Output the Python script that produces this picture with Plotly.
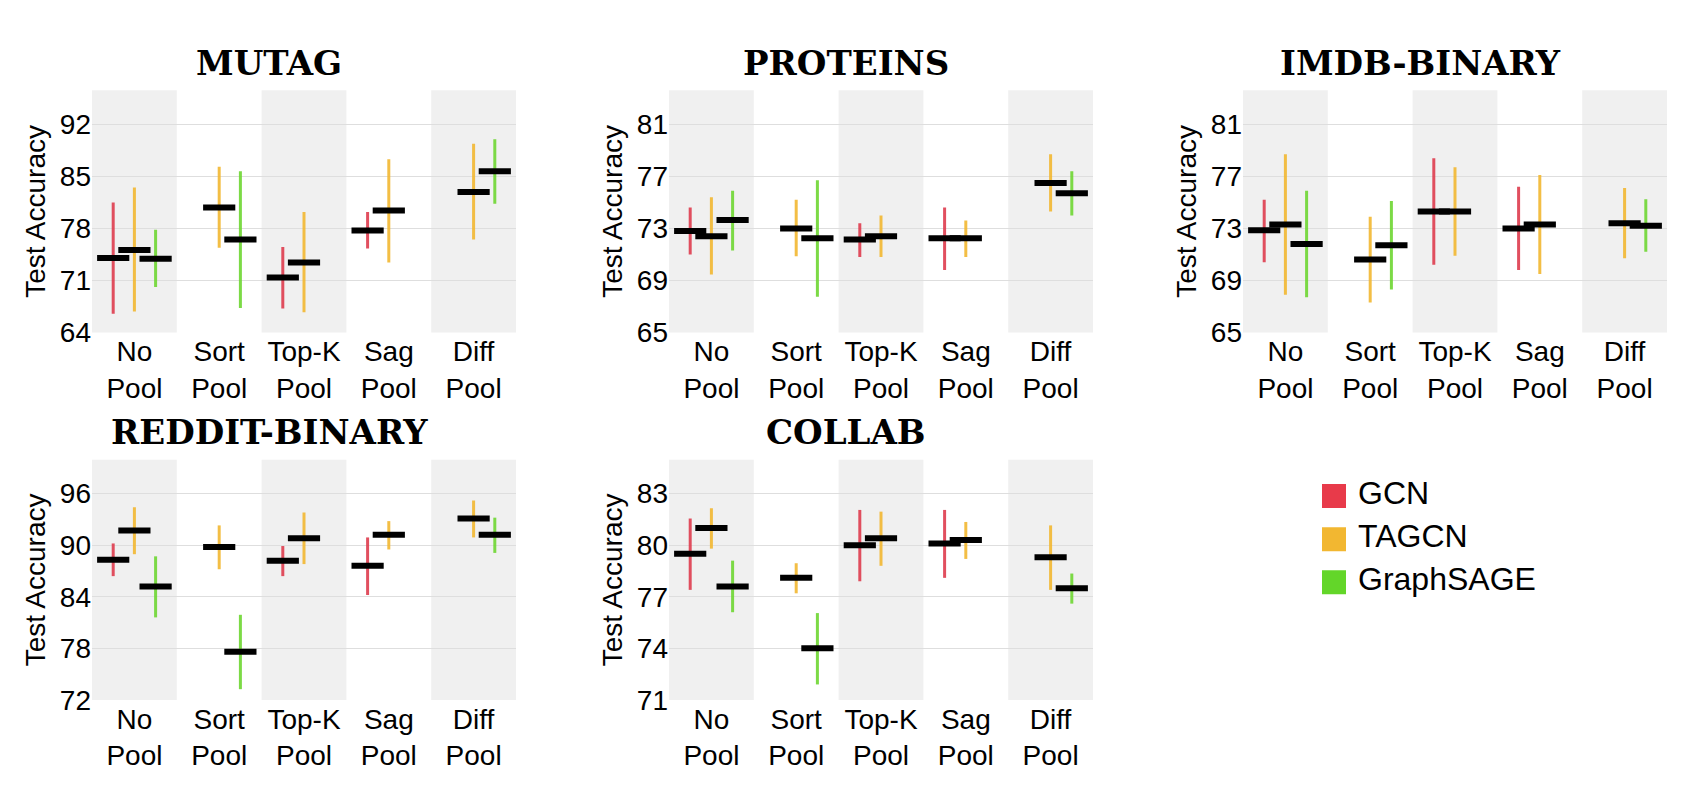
import plotly.graph_objects as go

W, H = 1682, 802

pools = ["No<br>Pool", "Sort<br>Pool", "Top-K<br>Pool", "Sag<br>Pool", "Diff<br>Pool"]
methods = ["GCN", "TAGCN", "GraphSAGE"]
method_colors = ["#e83a4a", "#f2b731", "#63d629"]
bar_colors = ["rgba(222,60,78,0.9)", "rgba(242,183,49,0.9)", "rgba(110,214,50,0.9)"]
offsets = [-0.25, 0.0, 0.25]
datasets = ["MUTAG", "PROTEINS", "IMDB-BINARY", "REDDIT-BINARY", "COLLAB"]

# ---- MUTAG (rows: GCN, TAGCN, GraphSAGE; cols: pools) ----
mutag_ticks = [64, 71, 78, 85, 92]
mutag_mean = [[74.0, None, 71.4, 77.7, None],
              [75.1, 80.8, 73.4, 80.4, 82.9],
              [73.9, 76.5, None, None, 85.7]]
mutag_low = [[66.5, None, 67.2, 75.3, None],
             [66.8, 75.4, 66.7, 73.4, 76.5],
             [70.1, 67.3, None, None, 81.3]]
mutag_high = [[81.5, None, 75.5, 80.2, None],
              [83.5, 86.3, 80.2, 87.3, 89.4],
              [77.8, 85.7, None, None, 90.0]]

# ---- PROTEINS ----
proteins_ticks = [65, 69, 73, 77, 81]
proteins_mean = [[72.8, None, 72.15, 72.25, None],
                 [72.4, 73.0, 72.4, 72.25, 76.5],
                 [73.65, 72.25, None, None, 75.7]]
proteins_low = [[71.0, None, 70.8, 69.8, None],
                [69.45, 70.85, 70.8, 70.8, 74.3],
                [71.3, 67.75, None, None, 74.0]]
proteins_high = [[74.6, None, 73.4, 74.6, None],
                 [75.4, 75.2, 74.0, 73.6, 78.7],
                 [75.9, 76.7, None, None, 77.4]]

# ---- IMDB-BINARY ----
imdb_ticks = [65, 69, 73, 77, 81]
imdb_mean = [[72.85, None, 74.3, 73.0, None],
             [73.3, 70.6, 74.3, 73.3, 73.4],
             [71.8, 71.7, None, None, 73.2]]
imdb_low = [[70.4, None, 70.2, 69.8, None],
            [67.9, 67.3, 70.9, 69.5, 70.7],
            [67.7, 68.3, None, None, 71.2]]
imdb_high = [[75.2, None, 78.4, 76.2, None],
             [78.7, 73.9, 77.7, 77.1, 76.1],
             [75.9, 75.1, None, None, 75.25]]

# ---- REDDIT-BINARY ----
reddit_ticks = [72, 78, 84, 90, 96]
reddit_mean = [[88.3, None, 88.2, 87.6, None],
               [91.7, 89.8, 90.8, 91.2, 93.1],
               [85.2, 77.6, None, None, 91.2]]
reddit_low = [[86.4, None, 86.4, 84.2, None],
              [88.95, 87.2, 87.8, 89.5, 90.9],
              [81.6, 73.25, None, None, 89.1]]
reddit_high = [[90.2, None, 89.9, 90.9, None],
               [94.4, 92.3, 93.8, 92.8, 95.2],
               [88.7, 81.9, None, None, 93.2]]

# ---- COLLAB ----
collab_ticks = [71, 74, 77, 80, 83]
collab_mean = [[79.5, None, 80.0, 80.1, None],
               [81.0, 78.1, 80.4, 80.3, 79.3],
               [77.6, 74.0, None, None, 77.5]]
collab_low = [[77.4, None, 77.9, 78.1, None],
              [79.8, 77.2, 78.8, 79.2, 77.4],
              [76.1, 71.9, None, None, 76.6]]
collab_high = [[81.55, None, 82.05, 82.05, None],
               [82.15, 78.95, 81.95, 81.35, 81.15],
               [79.1, 76.05, None, None, 78.35]]

panels = [
    (mutag_ticks, mutag_mean, mutag_low, mutag_high),
    (proteins_ticks, proteins_mean, proteins_low, proteins_high),
    (imdb_ticks, imdb_mean, imdb_low, imdb_high),
    (reddit_ticks, reddit_mean, reddit_low, reddit_high),
    (collab_ticks, collab_mean, collab_low, collab_high),
]

# layout geometry (pixels)
col_left = [84, 661, 1235]
plot_w = 424
row_top = [84, 461]
plot_h = [247, 245]
grid_pos = [(0, 0), (0, 1), (0, 2), (1, 0), (1, 1)]
title_y = [56, 433]
TOP_SPAN = 4.655

SANS = "Liberation Sans, Arial, sans-serif"
SERIF = "DejaVu Serif, Liberation Serif, serif"

fig = go.Figure()
layout = dict(
    width=W, height=H,
    margin=dict(l=0, r=0, t=0, b=0),
    paper_bgcolor="white", plot_bgcolor="white",
    showlegend=False,
    font=dict(family=SANS, color="black"),
)
shapes = []
annotations = []

for k, (ticks, mean, low, high) in enumerate(panels):
    r, c = grid_pos[k]
    n = k + 1
    xa = "xaxis" if n == 1 else f"xaxis{n}"
    ya = "yaxis" if n == 1 else f"yaxis{n}"
    xr = "x" if n == 1 else f"x{n}"
    yr = "y" if n == 1 else f"y{n}"
    x0p = col_left[c] / W
    x1p = (col_left[c] + plot_w) / W
    y1p = 1 - row_top[r] / H
    y0p = 1 - (row_top[r] + plot_h[r]) / H
    step = ticks[1] - ticks[0]
    layout[xa] = dict(
        domain=[x0p, x1p], anchor=yr, range=[-0.5, len(pools) - 0.5],
        tickvals=list(range(len(pools))), ticktext=pools,
        showgrid=False, zeroline=False, showline=False, ticks="",
        tickfont=dict(size=28, family=SANS, color="black"),
    )
    layout[ya] = dict(
        domain=[y0p, y1p], anchor=xr,
        range=[ticks[0], ticks[0] + TOP_SPAN * step],
        tickvals=ticks, showgrid=True, gridcolor="#dedede", gridwidth=1,
        zeroline=False, showline=False, ticks="",
        tickfont=dict(size=28, family=SANS, color="black"),
        title=dict(text="Test Accuracy", standoff=6,
                   font=dict(size=28, family=SANS, color="black")),
    )
    # alternating grey bands
    for i in range(0, len(pools), 2):
        shapes.append(dict(type="rect", xref=xr, yref=f"{yr} domain",
                           x0=i - 0.5, x1=i + 0.5, y0=0, y1=1,
                           fillcolor="#f0f0f0", line=dict(width=0), layer="below"))
    # title
    annotations.append(dict(text=datasets[k], xref="paper", yref="paper",
                            x=(col_left[c] + plot_w / 2 - 35) / W, y=1 - title_y[r] / H,
                            xanchor="center", yanchor="middle", showarrow=False,
                            font=dict(family=SERIF, size=34, color="black", weight="bold")))
    # series
    for m in range(len(methods)):
        xs, ys, up, dn = [], [], [], []
        for i in range(len(pools)):
            if mean[m][i] is None:
                continue
            xs.append(i + offsets[m])
            ys.append(mean[m][i])
            up.append(high[m][i] - mean[m][i])
            dn.append(mean[m][i] - low[m][i])
        fig.add_trace(go.Scatter(
            x=xs, y=ys, xaxis=xr, yaxis=yr, mode="markers", name=methods[m],
            marker=dict(symbol="line-ew", size=23, color="black",
                        line=dict(width=6, color="black")),
            error_y=dict(type="data", symmetric=False, array=up, arrayminus=dn,
                         color=bar_colors[m], thickness=3, width=0),
            showlegend=False,
        ))

# custom legend drawn on its own hidden axes
legend_x_px = 1314
legend_y_px = 476
legend_item_h = 44
layout["xaxis6"] = dict(domain=[legend_x_px / W, (legend_x_px + 300) / W], anchor="y6",
                        range=[0, 300], visible=False, fixedrange=True)
layout["yaxis6"] = dict(domain=[1 - (legend_y_px + legend_item_h * 3) / H, 1 - legend_y_px / H],
                        anchor="x6", range=[len(methods) - 0.5, -0.5], visible=False, fixedrange=True)
for m in range(len(methods)):
    fig.add_trace(go.Scatter(
        x=[12], y=[m], xaxis="x6", yaxis="y6", mode="markers",
        marker=dict(symbol="square", size=24, color=method_colors[m], line=dict(width=0)),
        showlegend=False, hoverinfo="skip",
    ))
    fig.add_trace(go.Scatter(
        x=[36], y=[m], xaxis="x6", yaxis="y6", mode="text",
        text=[methods[m]], textposition="middle right",
        textfont=dict(size=32, family=SANS, color="black"),
        showlegend=False, hoverinfo="skip",
    ))

layout["shapes"] = shapes
layout["annotations"] = annotations
fig.update_layout(**layout)
fig.write_html("out.html")
